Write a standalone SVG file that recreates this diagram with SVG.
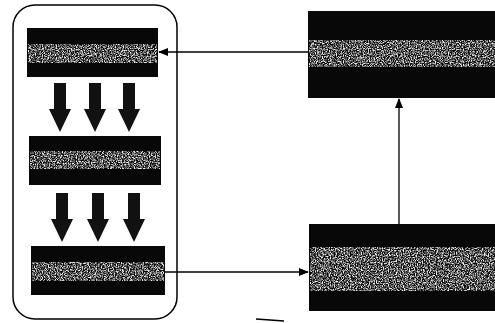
<svg xmlns="http://www.w3.org/2000/svg" width="495" height="323" viewBox="0 0 495 323">
<style>
.box{fill:#080808;}
.band{fill:#fff;filter:url(#noise);}
.conn{stroke:#000;stroke-width:1.3;fill:none;}
.big{fill:#111;}
</style>
<defs>
<filter id="noise" x="0" y="0" width="100%" height="100%">
<feTurbulence type="fractalNoise" baseFrequency="0.85" numOctaves="2" seed="4"/>
<feColorMatrix type="matrix" values="0 0 0 0 0.85  0 0 0 0 0.85  0 0 0 0 0.85  3.2 0 0 0 -1.25"/>
<feComposite in2="SourceGraphic" operator="in"/>
</filter>
<marker id="ah" markerWidth="10" markerHeight="8" refX="9" refY="4" orient="auto" markerUnits="userSpaceOnUse">
<path d="M0,0 L10,4 L0,8 Z" fill="#000"/>
</marker>
<path id="bigarrow" d="M-6,0 H6 V26 H11 L0,49 L-11,26 H-6 Z"/>
</defs>
<rect width="495" height="323" fill="#fff"/>
<g id="container">
<rect x="13" y="5" width="164" height="314" rx="22" ry="22" fill="none" stroke="#000" stroke-width="1.5"/>
</g>
<g id="box1">
<rect class="box" x="27" y="28" width="131" height="49"/>
<rect class="band" x="28" y="44" width="129" height="19"/>
</g>
<g id="box2">
<rect class="box" x="29" y="136" width="132" height="49"/>
<rect class="band" x="30" y="151" width="130" height="18"/>
</g>
<g id="box3">
<rect class="box" x="31" y="246" width="134" height="49"/>
<rect class="band" x="32" y="262" width="132" height="19"/>
</g>
<g id="arrows-row1" class="big">
<use href="#bigarrow" x="60" y="83"/>
<use href="#bigarrow" x="95" y="83"/>
<use href="#bigarrow" x="129" y="83"/>
</g>
<g id="arrows-row2" class="big">
<use href="#bigarrow" x="62" y="193"/>
<use href="#bigarrow" x="98" y="193"/>
<use href="#bigarrow" x="134" y="193"/>
</g>
<g id="boxTR">
<rect class="box" x="308" y="11" width="187" height="87"/>
<rect class="band" x="309" y="40" width="186" height="27"/>
</g>
<g id="boxBR">
<rect class="box" x="309" y="224" width="186" height="87"/>
<rect class="band" x="310" y="247" width="185" height="44"/>
</g>
<g id="connectors">
<line class="conn" x1="308" y1="52" x2="159" y2="52" marker-end="url(#ah)"/>
<line class="conn" x1="399" y1="224" x2="399" y2="99" marker-end="url(#ah)"/>
<line class="conn" x1="165" y1="272" x2="308" y2="272" marker-end="url(#ah)"/>
</g>
<line x1="256" y1="319" x2="284" y2="321" stroke="#000" stroke-width="1.5"/>
</svg>
